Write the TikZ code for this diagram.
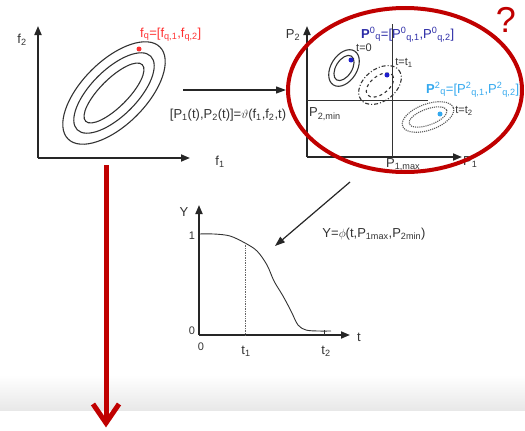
\documentclass[tikz,border=0pt]{standalone}
\usepackage{fontspec}
\setmainfont{Liberation Sans}
\usetikzlibrary{arrows.meta}
\definecolor{dred}{HTML}{C00000}
\definecolor{fred}{HTML}{FF3030}
\definecolor{dblue}{HTML}{2B2BA6}
\definecolor{bdot}{HTML}{1E1ECC}
\definecolor{lblue}{HTML}{33A8EE}
\definecolor{ink}{HTML}{333333}
\newcommand{\tsub}[1]{\textsubscript{#1}}
\newcommand{\tsup}[1]{\textsuperscript{#1}}
\begin{document}
\begin{tikzpicture}[x=1pt,y=-1pt, font=\fontsize{13}{15}\selectfont,
  axis/.style={line width=1.8pt, draw=black!85, -{Triangle[length=9pt,width=7pt]}},
  lbl/.style={inner sep=0pt, text=ink},
  small/.style={lbl, font=\fontsize{11}{13}\selectfont},
  cont/.style={line width=1.1pt, draw=ink},
  thin/.style={line width=0.8pt, draw=ink},
  conn/.style={line width=1.2pt, draw=black!85, -{Triangle[length=10pt,width=7pt]}},
  dot/.style={circle, inner sep=0pt, minimum size=5pt},
  bigred/.style={draw=dred, line width=5pt},
]
\useasboundingbox (0,0) rectangle (525,431);
\shade[top color=white, bottom color=black!9] (0,375) rectangle (525,410);

% ---- left plot
\coordinate (fO) at (38,158);
\coordinate (f2t) at (38,26);
\coordinate (f1t) at (190,158);
\draw[axis] (fO) -- (f2t);
\draw[axis] (fO) -- (f1t);
\node[lbl] (f2lab) at (22,40) {f\tsub{2}};
\node[lbl] (f1lab) at (220,162) {f\tsub{1}};
\foreach \a/\b in {65/32, 52/23, 40/14}
  \draw[cont, rotate around={45:(114,93)}] (114,93) ellipse [x radius=\a, y radius=\b];
\node[dot, fill=fred] (fq) at (139,49) {};
\node[lbl, text=fred, anchor=base west] (fqlab) at (140,37) {f\tsub{q}=[f\tsub{q,1},f\tsub{q,2}]};

% ---- connector 1
\coordinate (c1s) at (183,90);
\coordinate (c1e) at (286,90);
\draw[conn] (c1s) -- (c1e);
\node[lbl] (thetalab) at (228,115) {[P\tsub{1}(t),P\tsub{2}(t)]=$\vartheta$(f\tsub{1},f\tsub{2},t)};

% ---- P plot
\coordinate (PO) at (307,157);
\coordinate (P2t) at (307,26);
\coordinate (P1t) at (462,157);
\draw[axis] (PO) -- (P2t);
\draw[axis] (PO) -- (P1t);
\coordinate (vT) at (392,24);
\coordinate (vB) at (392,157);
\coordinate (hL) at (307,100);
\coordinate (hR) at (428,100);
\draw[thin] (vT) -- (vB);
\draw[thin] (hL) -- (hR);
\node[lbl] (P2lab) at (293,35) {P\tsub{2}};
\node[lbl, anchor=west] (P1lab) at (463,162) {P\tsub{1}};
\node[lbl, anchor=west] (P2min) at (309,114) {P\tsub{2,min}};
\node[lbl, anchor=north west] (P1max) at (386,158) {P\tsub{1,max}};
\node[lbl, text=dblue, anchor=base west] (P0lab) at (361,38)
  {\textbf{P}\tsup{0}\tsub{q}=[P\tsup{0}\tsub{q,1},P\tsup{0}\tsub{q,2}]};
\node[lbl, text=lblue, anchor=base west] (P2qlab) at (426,93)
  {\textbf{P}\tsup{2}\tsub{q}=[P\tsup{2}\tsub{q,1},P\tsup{2}\tsub{q,2}]};
% t=0
\draw[cont, rotate around={58:(344,68)}] (344,68) ellipse [x radius=20, y radius=13];
\draw[cont, rotate around={58:(344,68)}] (344,68) ellipse [x radius=14, y radius=8];
\node[dot, fill=bdot] (d0) at (351,60) {};
\node[small] (t0) at (364,48) {t=0};
% t=t1
\draw[cont, dash pattern=on 4pt off 2pt on 1pt off 2pt, rotate around={38:(380,85)}] (380,85) ellipse [x radius=24, y radius=16];
\draw[cont, dashed, rotate around={38:(380,85)}] (380,85) ellipse [x radius=16, y radius=9];
\node[dot, fill=bdot] (d1) at (387,75) {};
\node[small] (t1lab) at (404,63) {t=t\tsub{1}};
% t=t2
\draw[cont, densely dotted, draw=black!65, rotate around={20:(428,117)}] (428,117) ellipse [x radius=27, y radius=13];
\draw[cont, densely dotted, draw=black!65, rotate around={20:(428,117)}] (428,117) ellipse [x radius=20, y radius=8];
\node[dot, fill=lblue] (d2) at (440,114) {};
\node[small] (t2lab) at (464,111) {t=t\tsub{2}};

% big red ellipse and question mark
\draw[draw=dred, line width=4pt] (405,90) ellipse [x radius=117, y radius=82];
\node[text=dred, inner sep=0pt, font=\fontsize{36}{36}\selectfont] (qm) at (506,20) {?};

% ---- connector 2
\coordinate (c2s) at (350,182);
\coordinate (c2e) at (275,246);
\draw[conn] (c2s) -- (c2e);
\node[lbl] (philab) at (374,234) {Y=$\phi$(t,P\tsub{1max},P\tsub{2min})};

% ---- Y plot
\coordinate (YO) at (199,335);
\coordinate (Yt) at (199,205);
\coordinate (tt) at (350,335);
\draw[axis] (YO) -- (Yt);
\draw[axis] (YO) -- (tt);
\node[lbl] (Ylab) at (184,212) {Y};
\node[small] (one) at (192,236) {1};
\node[small] (zeroY) at (192,331) {0};
\node[small] (zeroT) at (201,347) {0};
\node[lbl] (t1ax) at (246,351) {t\tsub{1}};
\node[lbl] (t2ax) at (326,351) {t\tsub{2}};
\node[lbl] (tax) at (359,337) {t};
\draw[line width=0.9pt, ink] plot[smooth, tension=0.55] coordinates
  {(199,234) (214,234) (230,236) (245,243) (257,251) (267,265) (274,281) (283,296) (291,311) (298,325) (306,330) (318,331) (331,331)};
\coordinate (dT) at (245,243);
\coordinate (dB) at (245,335);
\draw[line width=0.7pt, black!60, densely dotted] (dT) -- (dB);
\coordinate (tkT) at (324,330);
\coordinate (tkB) at (324,335);
\draw[thin] (tkT) -- (tkB);

% ---- red down arrow
\coordinate (rs) at (106,165);
\coordinate (re) at (106,423);
\coordinate (rl) at (93,404);
\coordinate (rr) at (119,404);
\draw[bigred] (rs) -- (re);
\draw[bigred, line join=miter] (rl) -- (re) -- (rr);
\end{tikzpicture}
\end{document}
